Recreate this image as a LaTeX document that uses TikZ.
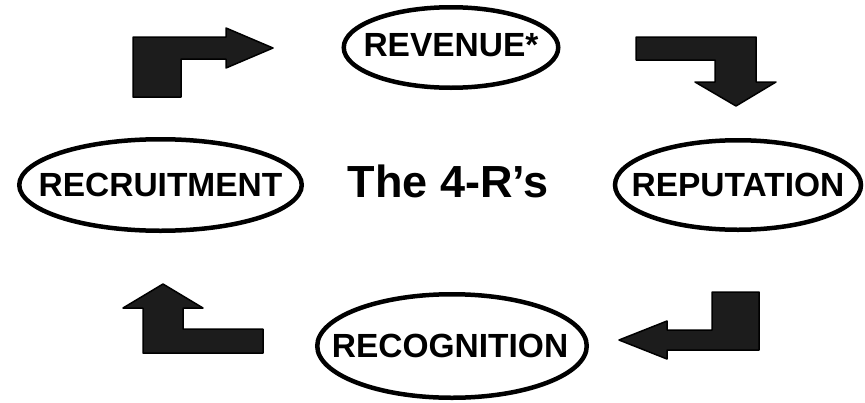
\documentclass[tikz,border=0pt]{standalone}
\usepackage{fontspec}
\setmainfont{Liberation Sans}
\usepackage{tikz}
\usetikzlibrary{positioning}
\definecolor{mydark}{HTML}{1C1C1C}
\tikzset{
  rlabel/.style={inner sep=0pt, font=\fontsize{33.5}{37}\selectfont\bfseries},
  rring/.style={draw=black, line width=4.5pt},
  blockarrow/.style={fill=mydark, draw=black, line width=1.5pt, line join=round}
}

\begin{document}
\begin{tikzpicture}[x=1pt, y=-1pt]
				\useasboundingbox (0,0) rectangle (865,402);
				\node[rlabel] (revenue) at (451,45.5) {REVENUE*};
				\node[rlabel] (recruitment) at (160.5,185) {RECRUITMENT};
				\node[rlabel] (reputation) at (738,185) {REPUTATION};
				\node[rlabel] (recognition) at (450,346) {RECOGNITION};
				\draw [rring] (451,47.5) ellipse [x radius=107.25, y radius=40.25];
				\draw [rring] (recruitment.center) ellipse [x radius=141.25, y radius=45.75];
				\draw [rring] (reputation.center) ellipse [x radius=123, y radius=44.75];
				\draw [rring] (452,346) ellipse [x radius=134.75, y radius=51.75];
				\node[font=\fontsize{45}{50}\selectfont\bfseries] (title) at (448,181) {The 4-R’s};
				\draw [blockarrow] (133,37) -- (226,37) -- (226,28) -- (273,48) -- (226,68) -- (226,59) -- (181,59) -- (181,97) -- (133,97) -- cycle;
				\draw [blockarrow] (636,37) -- (756,37) -- (756,82) -- (776,82) -- (736,106) -- (695,82) -- (715,82) -- (715,60) -- (636,60) -- cycle;
				\draw [blockarrow] (619,340) -- (667,321) -- (667,330) -- (712,330) -- (712,292) -- (759,292) -- (759,350) -- (667,350) -- (667,359) -- cycle;
				\draw [blockarrow] (163,284) -- (203,308) -- (183,308) -- (183,329) -- (263,329) -- (263,353) -- (143,353) -- (143,308) -- (123,308) -- cycle;
			\end{tikzpicture}
\end{document}
